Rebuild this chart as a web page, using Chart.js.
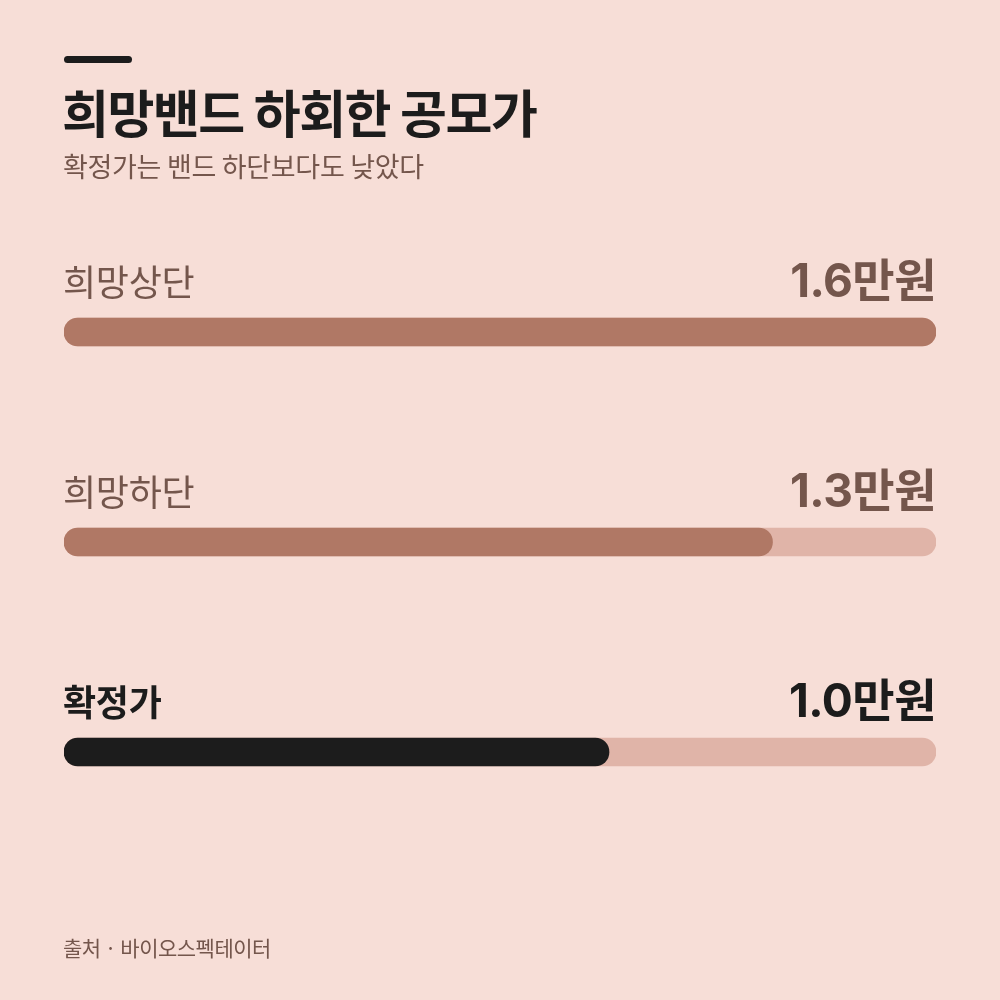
<!DOCTYPE html>
<html>
<head>
<meta charset="utf-8">
<script src="https://cdn.jsdelivr.net/npm/chart.js@4"></script>
<style>
  html, body { margin: 0; padding: 0; background: #F7DED7; }
  #wrap { width: 1000px; height: 1000px; }
</style>
</head>
<body>
<div id="wrap"><canvas id="myChart" width="1000" height="1000"></canvas></div>
<script>
const ctx = document.getElementById("myChart");

// data
const labels = ['희망상단', '희망하단', '확정가']
const values = [1.6, 1.3, 1.0]
const valueLabels = ['1.6만원', '1.3만원', '1.0만원']
const maxValue = 1.6

const title = '희망밴드 하회한 공모가'
const subtitle = '확정가는 밴드 하단보다도 낮았다'
const source = '출처 · 바이오스펙테이터'

const bg = '#F7DED7'
const brown = '#B07865'
const track = '#E0B4A8'
const textBrown = '#74564C'
const black = '#1C1C1C'
const barColors = [brown, brown, black]

const sans = "'Noto Sans CJK KR', sans-serif"
const numSans = "Inter, 'Noto Sans CJK KR', sans-serif"

const textPlugin = {
  id: 'texts',
  beforeDraw(chart) {
    const c = chart.ctx
    c.save()
    c.fillStyle = bg
    c.fillRect(0, 0, chart.width, chart.height)
    c.restore()
  },
  afterDraw(chart) {
    const c = chart.ctx
    const area = chart.chartArea
    const yScale = chart.scales.y
    c.save()
    // accent line
    c.fillStyle = black
    c.beginPath()
    c.roundRect(64, 56, 68, 7, 3.5)
    c.fill()

    c.textBaseline = 'alphabetic'
    c.textAlign = 'left'
    c.fillStyle = black
    c.font = "bold 51px " + sans
    c.letterSpacing = '-1.5px'
    c.fillText(title, 62, 133)

    c.fillStyle = textBrown
    c.font = "400 27px " + sans
    c.letterSpacing = '-0.3px'
    c.fillText(subtitle, 63, 177)

    c.font = "400 21px " + sans
    c.letterSpacing = '-0.5px'
    c.fillText(source, 63, 956)

    labels.forEach((lab, i) => {
      const yc = yScale.getPixelForValue(i)
      const base = yc - 14 - 22
      const last = i === labels.length - 1
      c.fillStyle = last ? black : textBrown
      c.textAlign = 'left'
      c.font = (last ? "bold " : "400 ") + "36px " + sans
      c.letterSpacing = '-0.3px'
      c.fillText(lab, area.left - 1, base)
      c.textAlign = 'right'
      c.font = "bold 46px " + numSans
      c.letterSpacing = '-0.5px'
      c.fillText(valueLabels[i], area.right, base + 1)
    })
    c.restore()
  }
}

const myChart = new Chart(ctx, {
  type: 'bar',
  data: {
    labels: labels,
    datasets: [
      {
        label: '값',
        data: values,
        backgroundColor: barColors,
        borderRadius: 14,
        borderSkipped: false,
        barThickness: 28,
        order: 0
      },
      {
        label: '트랙',
        data: labels.map(() => maxValue),
        backgroundColor: track,
        borderRadius: 14,
        borderSkipped: false,
        barThickness: 28,
        order: 1
      }
    ]
  },
  plugins: [textPlugin],
  options: {
    indexAxis: 'y',
    responsive: false,
    animation: false,
    devicePixelRatio: 1,
    grouped: false,
    layout: {
      padding: { left: 64, right: 64, top: 227, bottom: 143 }
    },
    scales: {
      x: { display: false, min: 0, max: maxValue },
      y: { display: false }
    },
    plugins: {
      legend: { display: false },
      tooltip: { enabled: false }
    }
  }
});
</script>
</body>
</html>
